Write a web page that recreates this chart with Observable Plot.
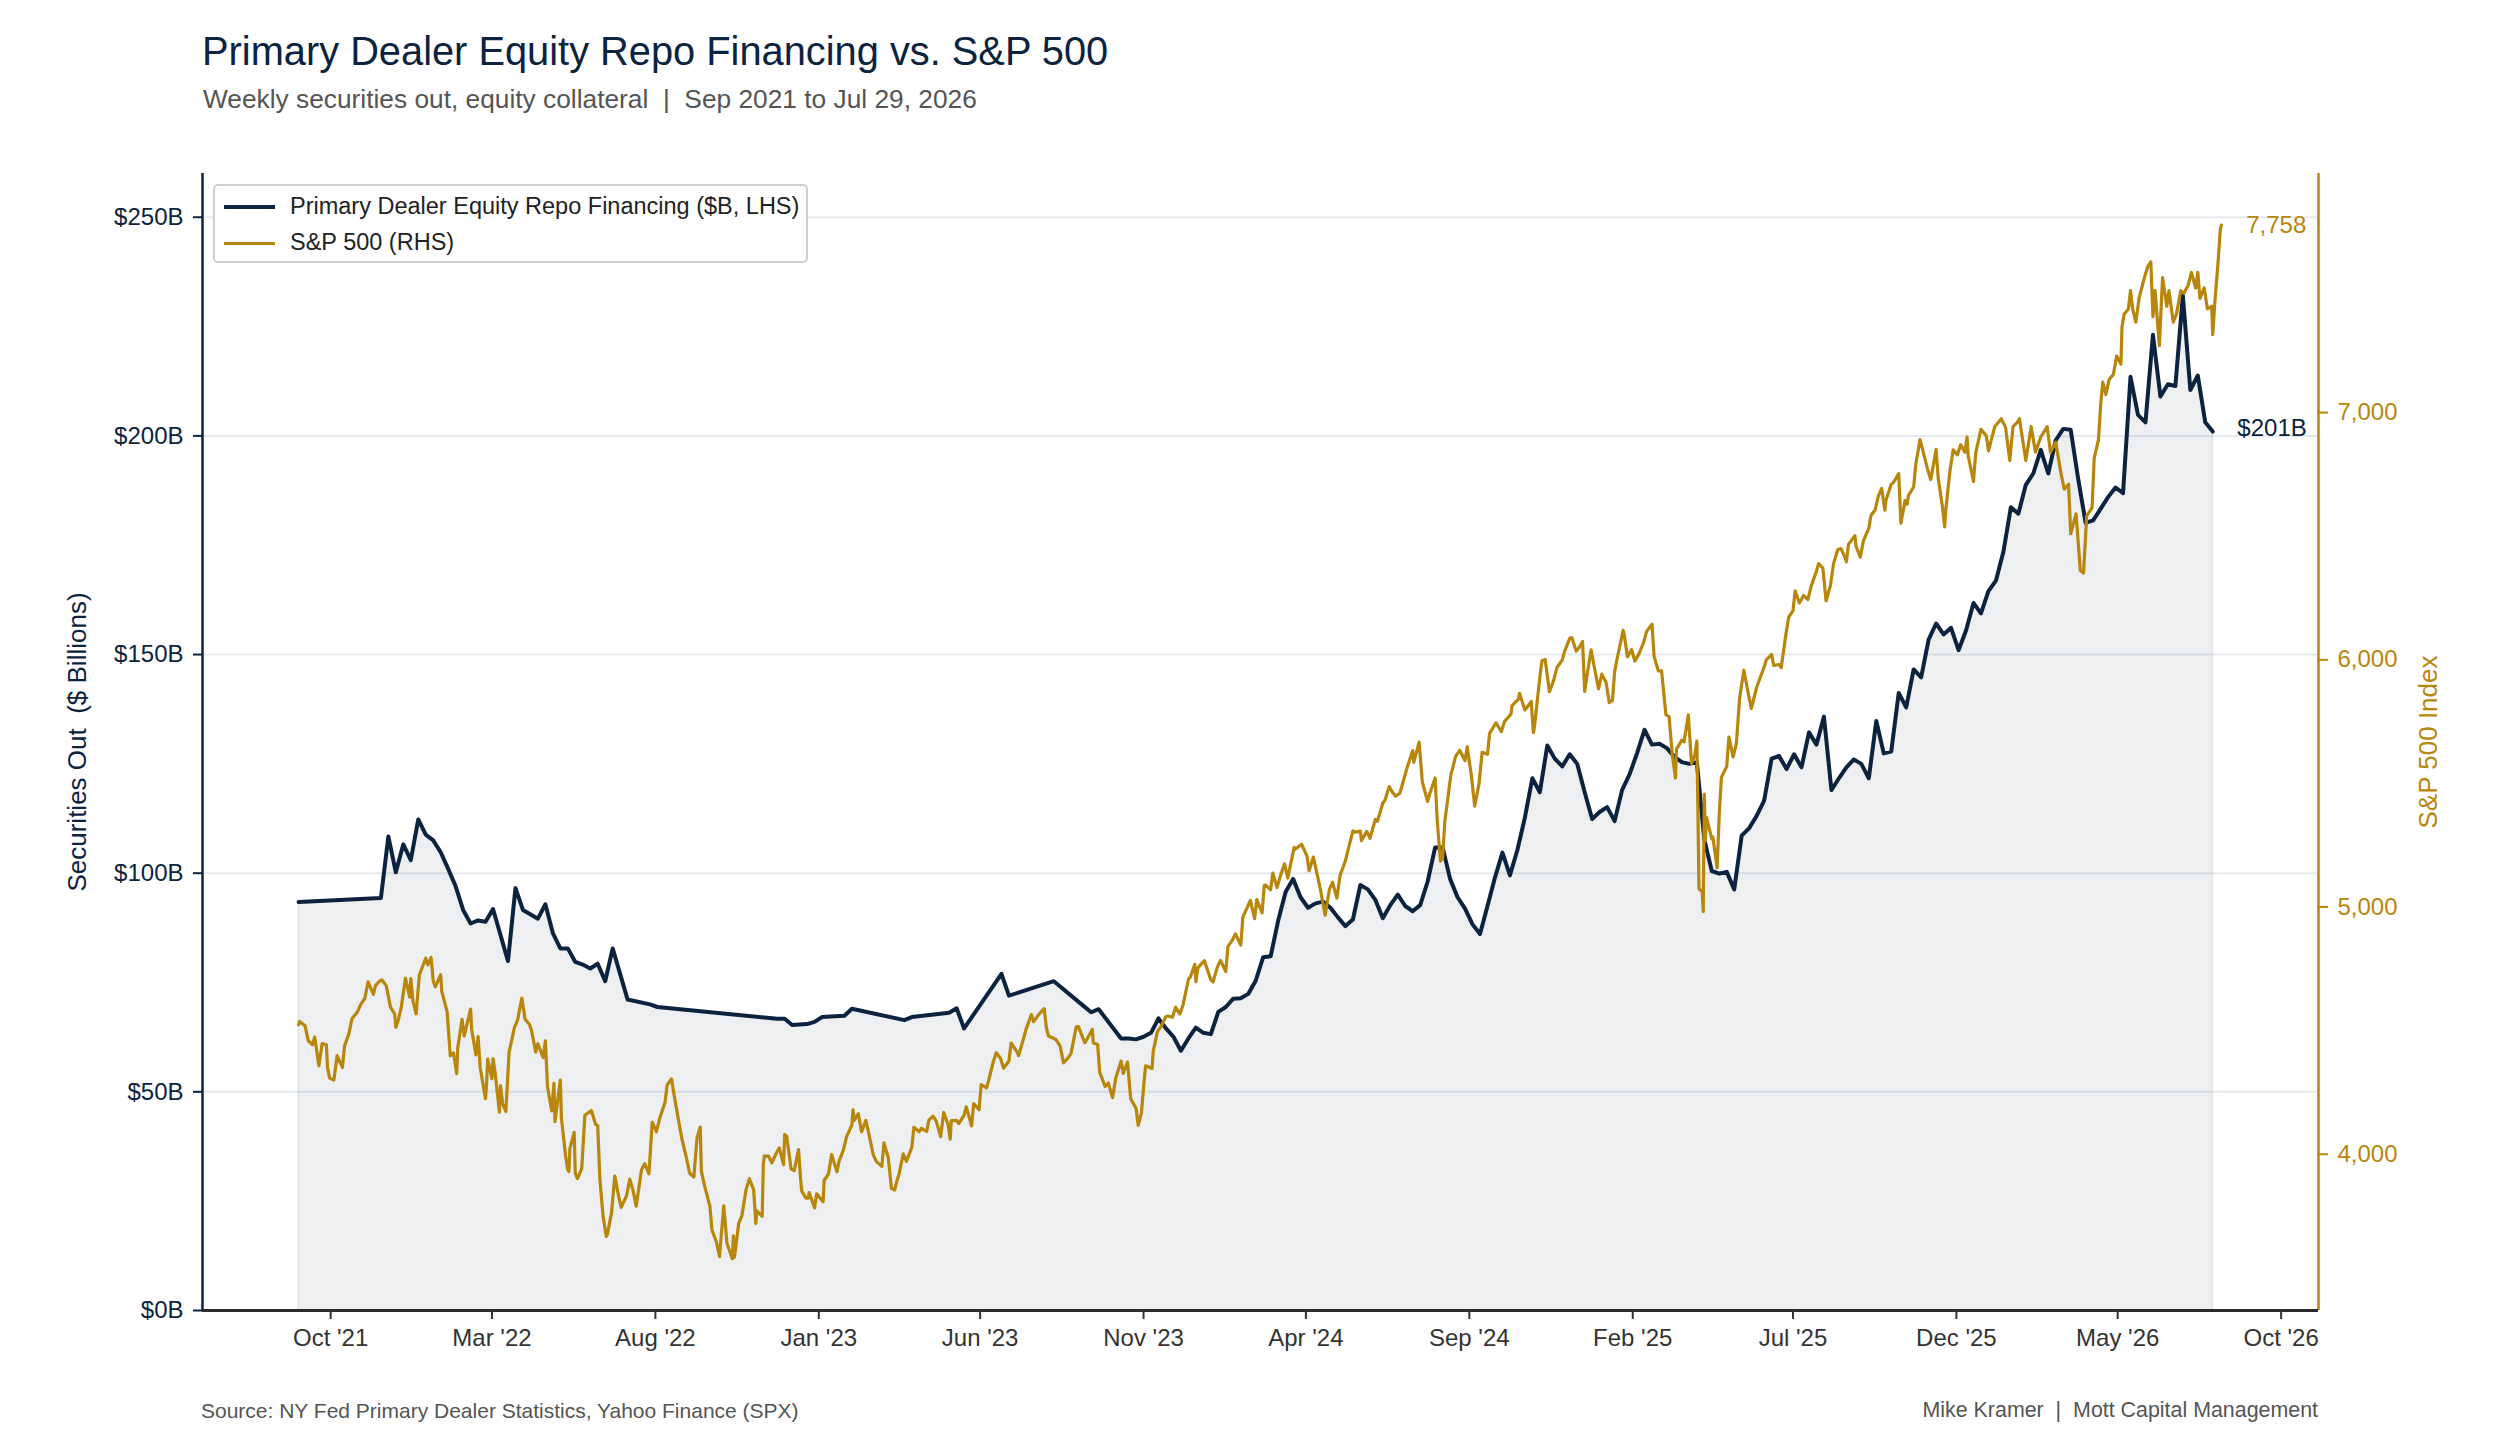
<!DOCTYPE html>
<html>
<head>
<meta charset="utf-8">
<script src="https://cdn.jsdelivr.net/npm/d3@7"></script>
<script src="https://cdn.jsdelivr.net/npm/@observablehq/plot@0.6"></script>
<style>
  html, body { margin: 0; padding: 0; background: #ffffff; }
  body { font-family: "Liberation Sans", Arial, Helvetica, sans-serif; }
  #wrap { position: relative; width: 2520px; height: 1440px; overflow: hidden; background: #fff; }
  #title { position: absolute; left: 202px; top: 32px; font-size: 39.8px; line-height: 39.8px; color: #0c2340; white-space: pre; }
  #subtitle { position: absolute; left: 203px; top: 86px; font-size: 26.3px; line-height: 26.3px; color: #555555; white-space: pre; }
  #chart { position: absolute; left: 0; top: 140px; }
  #legend { position: absolute; left: 213px; top: 184px; width: 595px; height: 79px; box-sizing: border-box;
            border: 2px solid #cfcfcf; border-radius: 5px; background: rgba(255,255,255,0.9); }
  .sw { position: absolute; left: 9px; width: 51px; }
  .lt { position: absolute; left: 75px; font-size: 23.5px; line-height: 23.5px; color: #222; white-space: pre; }
  #src { position: absolute; left: 201px; top: 1400px; font-size: 21px; line-height: 21px; color: #555; white-space: pre; }
  #credit { position: absolute; right: 202px; top: 1400px; font-size: 21.4px; line-height: 21px; color: #555; white-space: pre; }
</style>
</head>
<body>
<div id="wrap">
  <div id="title">Primary Dealer Equity Repo Financing vs. S&amp;P 500</div>
  <div id="subtitle">Weekly securities out, equity collateral  |  Sep 2021 to Jul 29, 2026</div>
  <div id="chart"></div>
  <div id="legend">
    <div class="sw" style="top:19px;height:4px;background:#0c2340"></div>
    <div class="lt" style="top:9px">Primary Dealer Equity Repo Financing ($B, LHS)</div>
    <div class="sw" style="top:55.5px;height:3px;background:#b8860b"></div>
    <div class="lt" style="top:45px">S&amp;P 500 (RHS)</div>
  </div>
  <div id="src">Source: NY Fed Primary Dealer Statistics, Yahoo Finance (SPX)</div>
  <div id="credit">Mike Kramer  |  Mott Capital Management</div>
</div>
<script>
// ---------------- DATA ----------------
// Weekly primary dealer equity repo financing, $B (Wednesdays)
const repoDates = [
  "2021-09-01","2021-11-17","2021-11-24","2021-12-01","2021-12-08","2021-12-15","2021-12-22","2021-12-29",
  "2022-01-05","2022-01-12","2022-01-19","2022-01-26","2022-02-02","2022-02-09","2022-02-16","2022-02-23",
  "2022-03-02","2022-03-16","2022-03-23","2022-03-30","2022-04-13","2022-04-20","2022-04-27","2022-05-04",
  "2022-05-11","2022-05-18","2022-05-25","2022-06-01","2022-06-08","2022-06-15","2022-06-22","2022-07-06",
  "2022-07-27","2022-08-03","2022-11-23","2022-11-30","2022-12-07","2022-12-21","2022-12-28","2023-01-04",
  "2023-01-25","2023-02-01","2023-03-22","2023-03-29","2023-05-03","2023-05-10","2023-05-17","2023-06-21",
  "2023-06-28","2023-08-09","2023-09-06","2023-09-13","2023-09-20","2023-10-11","2023-10-18","2023-10-25",
  "2023-11-01","2023-11-08","2023-11-15","2023-11-22","2023-11-29","2023-12-06","2023-12-13","2023-12-20",
  "2023-12-27","2024-01-03","2024-01-10","2024-01-17","2024-01-24","2024-01-31","2024-02-07","2024-02-14",
  "2024-02-21","2024-02-28","2024-03-06","2024-03-13","2024-03-20","2024-03-27","2024-04-03","2024-04-10",
  "2024-04-17","2024-04-24","2024-05-01","2024-05-08","2024-05-15","2024-05-22","2024-05-29","2024-06-05",
  "2024-06-12","2024-06-19","2024-06-26","2024-07-03","2024-07-10","2024-07-17","2024-07-24","2024-07-31",
  "2024-08-07","2024-08-14","2024-08-21","2024-08-28","2024-09-04","2024-09-11","2024-09-18","2024-09-25",
  "2024-10-02","2024-10-09","2024-10-16","2024-10-23","2024-10-30","2024-11-06","2024-11-13","2024-11-20",
  "2024-11-27","2024-12-04","2024-12-11","2024-12-18","2024-12-25","2025-01-01","2025-01-08","2025-01-15",
  "2025-01-22","2025-01-29","2025-02-05","2025-02-12","2025-02-19","2025-02-26","2025-03-05","2025-03-12",
  "2025-03-19","2025-03-26","2025-04-02","2025-04-09","2025-04-16","2025-04-23","2025-04-30","2025-05-07",
  "2025-05-14","2025-05-21","2025-05-28","2025-06-04","2025-06-11","2025-06-18","2025-06-25","2025-07-02",
  "2025-07-09","2025-07-16","2025-07-23","2025-07-30","2025-08-06","2025-08-13","2025-08-20","2025-08-27",
  "2025-09-03","2025-09-10","2025-09-17","2025-09-24","2025-10-01","2025-10-08","2025-10-15","2025-10-22",
  "2025-10-29","2025-11-05","2025-11-12","2025-11-19","2025-11-26","2025-12-03","2025-12-10","2025-12-17",
  "2025-12-24","2025-12-31","2026-01-07","2026-01-14","2026-01-21","2026-01-28","2026-02-04","2026-02-11",
  "2026-02-18","2026-02-25","2026-03-04","2026-03-11","2026-03-18","2026-03-25","2026-04-01","2026-04-08",
  "2026-04-15","2026-04-22","2026-04-29","2026-05-06","2026-05-13","2026-05-20","2026-05-27","2026-06-03",
  "2026-06-10","2026-06-17","2026-06-24","2026-07-01","2026-07-08","2026-07-15","2026-07-22","2026-07-29"
];
const repoValues = [
  93.4, 94.3, 108.4, 100.2, 106.6, 103.0, 112.3, 108.8,
  107.5, 104.8, 101.0, 97.0, 91.6, 88.5, 89.2, 88.9,
  91.8, 79.9, 96.6, 91.6, 89.6, 92.9, 86.3, 82.8,
  82.8, 79.7, 79.1, 78.2, 79.3, 75.3, 82.8, 71.1,
  70.0, 69.4, 66.7, 66.7, 65.3, 65.5, 66.0, 67.1,
  67.4, 69.0, 66.4, 67.1, 68.1, 69.1, 64.5, 77.0,
  72.0, 75.3, 69.6, 68.2, 68.9, 62.2, 62.2, 62.0,
  62.6, 63.5, 66.8, 64.5, 62.6, 59.4, 62.2, 64.7,
  63.5, 63.2, 68.3, 69.4, 71.3, 71.4, 72.4, 75.4,
  80.8, 81.0, 89.1, 95.7, 98.7, 94.5, 92.1, 93.1,
  93.5, 92.1, 89.9, 87.9, 89.4, 97.3, 96.3, 93.9,
  89.7, 92.7, 95.1, 92.5, 91.3, 92.7, 98.1, 105.9,
  105.9, 98.7, 94.5, 91.9, 88.3, 86.1, 92.5, 99.0,
  104.7, 99.5, 105.3, 112.7, 121.7, 118.5, 129.2, 126.2,
  124.4, 127.2, 125.0, 118.5, 112.4, 114.0, 115.1, 111.9,
  119.0, 122.6, 127.4, 132.8, 129.4, 129.6, 128.6, 126.6,
  125.4, 125.0, 125.4, 107.7, 100.5, 99.9, 100.3, 96.3,
  108.6, 110.3, 113.1, 116.6, 126.2, 126.8, 123.8, 127.2,
  124.2, 132.2, 129.4, 135.8, 119.0, 121.7, 124.2, 126.0,
  125.0, 121.7, 134.8, 127.4, 127.8, 141.2, 137.9, 146.6,
  144.8, 153.4, 157.1, 154.6, 156.1, 151.0, 155.5, 161.8,
  159.4, 164.5, 166.9, 173.5, 183.7, 182.2, 188.8, 191.4,
  196.8, 191.4, 199.0, 201.6, 201.4, 190.2, 180.1, 180.7,
  183.3, 186.0, 188.2, 186.9, 213.5, 204.8, 203.1, 223.1,
  209.0, 211.8, 211.4, 232.1, 210.5, 213.8, 203.1, 201.0
];

// S&P 500 closes (month-day per year, values in parallel)
const spxDates2021 = [
  "09-01","09-02","09-07","09-10","09-14","09-16","09-20","09-23","09-27","09-28","09-30",
  "10-04","10-07","10-12","10-14","10-18","10-21","10-26","10-29",
  "11-02","11-05","11-10","11-12","11-16","11-18","11-22","11-26","11-30",
  "12-01","12-03","12-06","12-10","12-14","12-15","12-17","12-20","12-23","12-29","12-31"];
const spxValues2021 = [
  4524,4537,4520,4459,4443,4474,4358,4448,4443,4353,4308,
  4300,4399,4351,4438,4487,4549,4575,4605,
  4631,4697,4647,4683,4701,4705,4682,4595,4567,
  4513,4538,4592,4712,4635,4710,4620,4568,4725,4793,4766];

const spxDates2022 = [
  "01-03","01-05","01-07","01-12","01-13","01-18","01-21","01-24","01-27","01-28",
  "02-01","02-03","02-09","02-10","02-14","02-16","02-18","02-23","02-24","02-25",
  "03-01","03-02","03-04","03-08","03-09","03-11","03-14","03-17","03-22","03-25","03-29",
  "04-01","04-05","04-07","04-11","04-13","04-18","04-20","04-22","04-26","04-28","04-29",
  "05-04","05-05","05-09","05-11","05-12","05-13","05-17","05-18","05-20","05-24","05-27",
  "06-02","06-06","06-08","06-10","06-13","06-16","06-17","06-21","06-24","06-28","06-30",
  "07-05","07-08","07-11","07-14","07-19","07-22","07-26","07-29",
  "08-02","08-05","08-10","08-12","08-16","08-19","08-23","08-26","08-30",
  "09-02","09-06","09-09","09-12","09-13","09-16","09-21","09-23","09-27","09-30",
  "10-04","10-07","10-12","10-13","10-14","10-18","10-21","10-25","10-28",
  "11-01","11-03","11-04","11-09","11-10","11-11","11-15","11-18","11-22","11-25","11-29","11-30",
  "12-02","12-06","12-09","12-13","12-15","12-16","12-20","12-22","12-23","12-28","12-30"];
const spxValues2022 = [
  4796,4701,4677,4726,4659,4577,4398,4410,4326,4432,
  4546,4478,4587,4504,4402,4476,4349,4225,4288,4385,
  4306,4387,4329,4170,4278,4204,4173,4412,4512,4543,4632,
  4546,4526,4501,4413,4447,4391,4459,4272,4175,4287,4132,
  4300,4147,3991,3935,3930,4024,4088,3923,3901,3941,4158,
  4177,4121,4116,3901,3750,3667,3675,3765,3912,3821,3785,
  3832,3899,3855,3790,3937,3962,3921,4130,
  4091,4145,4210,4280,4305,4228,4128,4058,3986,
  3924,3908,4067,4110,3932,3873,3790,3693,3647,3586,
  3791,3640,3577,3670,3583,3720,3752,3859,3901,
  3856,3720,3771,3749,3956,3993,3992,3965,4003,4026,3958,4080,
  4072,3941,3934,4019,3896,3852,3822,3822,3845,3783,3840];

const spxDates2023 = [
  "01-05","01-06","01-10","01-13","01-18","01-20","01-24","01-27",
  "02-01","02-02","02-03","02-07","02-10","02-14","02-17","02-21","02-24",
  "03-01","03-03","03-07","03-10","03-13","03-15","03-17","03-21","03-24","03-29","03-31",
  "04-05","04-07","04-12","04-14","04-18","04-21","04-25","04-28",
  "05-02","05-04","05-05","05-10","05-12","05-17","05-19","05-24","05-26","05-31",
  "06-02","06-07","06-09","06-13","06-16","06-20","06-23","06-28","06-30",
  "07-06","07-07","07-12","07-14","07-19","07-21","07-26","07-31",
  "08-02","08-04","08-09","08-11","08-15","08-18","08-22","08-25","08-30",
  "09-01","09-07","09-08","09-14","09-15","09-19","09-21","09-22","09-26","09-29",
  "10-03","10-06","10-11","10-13","10-17","10-20","10-25","10-27","10-30",
  "11-02","11-03","11-09","11-10","11-14","11-17","11-22","11-24","11-28",
  "12-01","12-05","12-08","12-13","12-15","12-19","12-20","12-22","12-28","12-29"];
const spxValues2023 = [
  3808,3895,3919,3999,3929,3972,4017,4071,
  4119,4180,4136,4164,4090,4137,4079,3997,3970,
  3951,4046,3986,3862,3855,3891,3917,4002,3971,4027,4109,
  4091,4105,4092,4138,4154,4133,4071,4169,
  4120,4061,4136,4137,4124,4158,4192,4115,4205,4180,
  4282,4268,4299,4369,4410,4389,4348,4377,4450,
  4411,4399,4473,4505,4565,4536,4566,4589,
  4513,4478,4468,4464,4437,4370,4388,4406,4515,
  4516,4451,4457,4505,4450,4444,4330,4320,4274,4288,
  4229,4308,4377,4327,4373,4224,4186,4117,4167,
  4318,4358,4347,4415,4496,4514,4557,4559,4554,
  4595,4567,4604,4707,4719,4768,4698,4755,4783,4770];

const spxDates2024 = [
  "01-03","01-05","01-09","01-12","01-17","01-19","01-23","01-26","01-31",
  "02-02","02-09","02-13","02-15","02-20","02-22","02-23","02-28",
  "03-01","03-05","03-08","03-12","03-15","03-21","03-22","03-28",
  "04-02","04-04","04-08","04-12","04-15","04-19","04-23","04-26","04-30",
  "05-03","05-08","05-10","05-15","05-17","05-22","05-23","05-28","05-31",
  "06-05","06-07","06-12","06-14","06-18","06-21","06-24","06-28",
  "07-03","07-05","07-10","07-11","07-16","07-19","07-24","07-26","07-31",
  "08-02","08-05","08-07","08-09","08-15","08-16","08-19","08-23","08-28","08-30",
  "09-03","09-06","09-10","09-13","09-18","09-20","09-26","09-27",
  "10-01","10-04","10-10","10-11","10-17","10-18","10-23","10-25","10-29","10-31",
  "11-01","11-06","11-08","11-11","11-15","11-19","11-22","11-27","11-29",
  "12-04","12-06","12-10","12-13","12-16","12-18","12-20","12-24","12-27","12-31"];
const spxValues2024 = [
  4705,4697,4756,4784,4739,4840,4865,4891,4846,
  4959,5027,4953,5030,4976,5087,5089,5070,
  5137,5079,5124,5175,5117,5241,5234,5254,
  5206,5147,5202,5123,5062,4967,5071,5100,5036,
  5128,5187,5223,5308,5303,5307,5268,5306,5278,
  5354,5347,5421,5432,5487,5465,5448,5460,
  5537,5567,5633,5585,5667,5505,5427,5459,5522,
  5346,5186,5199,5344,5543,5554,5608,5634,5592,5648,
  5529,5408,5496,5626,5618,5703,5745,5738,
  5709,5751,5780,5815,5841,5864,5797,5808,5832,5705,
  5729,5929,5996,6001,5871,5917,5969,5999,6032,
  6087,6090,6035,6051,6074,5872,5931,6040,5971,5882];

const spxDates2025 = [
  "01-03","01-07","01-10","01-13","01-15","01-17","01-23","01-24","01-27","01-31",
  "02-03","02-07","02-11","02-14","02-19","02-21","02-25","02-28",
  "03-04","03-07","03-10","03-13","03-14","03-19","03-21","03-25","03-28","03-31",
  "04-02","04-03","04-04","04-07","04-08","04-09","04-10","04-11","04-16","04-17","04-21","04-23","04-25","04-30",
  "05-02","05-06","05-09","05-12","05-16","05-21","05-23","05-28","05-30",
  "06-04","06-06","06-11","06-13","06-18","06-20","06-24","06-27",
  "07-01","07-03","07-07","07-11","07-15","07-18","07-23","07-25","07-29",
  "08-01","08-05","08-08","08-12","08-15","08-19","08-20","08-22","08-28","08-29",
  "09-02","09-05","09-10","09-12","09-16","09-19","09-22","09-25","09-26",
  "10-01","10-03","10-08","10-10","10-14","10-16","10-17","10-22","10-24","10-28","10-31",
  "11-04","11-07","11-12","11-14","11-18","11-20","11-21","11-25","11-28",
  "12-02","12-05","12-09","12-11","12-12","12-17","12-19","12-24","12-29","12-31"];
const spxValues2025 = [
  5942,5909,5827,5836,5950,5997,6119,6101,6012,6041,
  5995,6026,6068,6115,6144,6013,5955,5955,
  5778,5770,5615,5522,5639,5675,5668,5777,5581,5612,
  5671,5397,5074,5062,4982,5457,5268,5363,5276,5283,5158,5376,5525,5569,
  5687,5607,5660,5844,5958,5845,5803,5889,5912,
  5971,6000,6022,5977,5981,5968,6092,6173,
  6198,6279,6230,6260,6244,6297,6359,6389,6371,
  6238,6299,6389,6446,6450,6411,6396,6467,6502,6460,
  6415,6482,6532,6584,6607,6664,6693,6605,6644,
  6711,6716,6753,6553,6644,6630,6664,6699,6792,6891,6840,
  6771,6729,6851,6734,6617,6538,6603,6766,6849,
  6829,6870,6840,6901,6827,6721,6835,6932,6906,6845];

const spxDates2026 = [
  "01-06","01-12","01-16","01-20","01-23","01-27","01-29",
  "02-04","02-09","02-13","02-18","02-24","02-27",
  "03-04","03-09","03-12","03-16","03-18","03-23","03-25","03-27","03-30",
  "04-02","04-07","04-09","04-13","04-15","04-17","04-20","04-23","04-27","04-30",
  "05-04","05-05","05-07","05-11","05-13","05-15","05-18","05-21","05-26","05-29",
  "06-01","06-03","06-05","06-09","06-12","06-16","06-18","06-22","06-25","06-29",
  "07-02","07-06","07-09","07-13","07-15","07-17","07-21","07-24","07-28","07-29","07-31",
  "08-03","08-05","08-06"];
const spxValues2026 = [
  6944,6975,6940,6806,6943,6960,6975,
  6806,6943,6840,6901,6943,6840,
  6880,6752,6690,6710,6510,6590,6478,6361,6351,
  6583,6615,6816,6890,7028,7123,7073,7134,7155,7229,
  7196,7345,7398,7419,7493,7419,7366,7462,7546,7589,
  7610,7388,7493,7271,7546,7430,7493,7366,7398,7493,
  7483,7515,7567,7504,7567,7462,7504,7419,7430,7315,7450,
  7610,7737,7758];

// Axis ticks
const lhsTicks = [0, 50, 100, 150, 200, 250];
const rhsTicks = [4000, 5000, 6000, 7000];
const xTickDates = ["2021-10-01","2022-03-01","2022-08-01","2023-01-01","2023-06-01","2023-11-01",
                    "2024-04-01","2024-09-01","2025-02-01","2025-07-01","2025-12-01","2026-05-01","2026-10-01"];
const xDomain = ["2021-06-03", "2026-11-05"];
const lhsDomain = [0, 260];

// ---------------- BUILD ----------------
const NAVY = "#0c2340", GOLD = "#b8860b";
const parse = s => new Date(s + "T00:00:00Z");

if (repoDates.length !== repoValues.length) console.error("repo length mismatch");
const repo = repoDates.map((d, i) => ({date: parse(d), value: repoValues[i]}));

const spxParts = [
  [2021, spxDates2021, spxValues2021], [2022, spxDates2022, spxValues2022],
  [2023, spxDates2023, spxValues2023], [2024, spxDates2024, spxValues2024],
  [2025, spxDates2025, spxValues2025], [2026, spxDates2026, spxValues2026]
];
const spx = [];
for (const [yr, ds, vs] of spxParts) {
  if (ds.length !== vs.length) console.error("spx length mismatch " + yr);
  ds.forEach((d, i) => spx.push({date: parse(`${yr}-${d}`), value: vs[i]}));
}

// Right-hand axis: S&P domain padded 5% of range, mapped onto the LHS scale
const [sMin, sMax] = d3.extent(spx, d => d.value);
const sLo = sMin - 0.05 * (sMax - sMin), sHi = sMax + 0.05 * (sMax - sMin);
const toL = v => (v - sLo) / (sHi - sLo) * (lhsDomain[1] - lhsDomain[0]) + lhsDomain[0];
const fromL = y => sLo + (y - lhsDomain[0]) / (lhsDomain[1] - lhsDomain[0]) * (sHi - sLo);

const lastRepo = repo[repo.length - 1];
const lastSpx = spx[spx.length - 1];

const chart = Plot.plot({
  width: 2520,
  height: 1235,
  marginLeft: 202,
  marginRight: 202,
  marginTop: 33,
  marginBottom: 65,
  style: {fontFamily: '"Liberation Sans", Arial, Helvetica, sans-serif', fontSize: "24px", background: "transparent", overflow: "visible"},
  x: {type: "utc", domain: xDomain.map(parse)},
  y: {domain: lhsDomain},
  marks: [
    Plot.areaY(repo, {x: "date", y: "value", fill: "#5a6b7d", fillOpacity: 0.11, stroke: "#5a6b7d", strokeOpacity: 0.10, strokeWidth: 2}),
    Plot.gridY(lhsTicks, {stroke: "#8da0b8", strokeOpacity: 0.22, strokeWidth: 2}),
    Plot.lineY(repo, {x: "date", y: "value", stroke: NAVY, strokeWidth: 4, strokeLinejoin: "round"}),
    Plot.lineY(spx, {x: "date", y: d => toL(d.value), stroke: GOLD, strokeWidth: 3.2, strokeLinejoin: "round"}),
    // spines
    Plot.ruleX([parse(xDomain[0])], {stroke: NAVY, strokeWidth: 2.5}),
    Plot.ruleX([parse(xDomain[1])], {stroke: GOLD, strokeWidth: 2.5}),
    Plot.ruleY([0], {stroke: "#2b2b2b", strokeWidth: 3}),
    // axes
    Plot.axisY(lhsTicks, {anchor: "left", tickSize: 9, tickPadding: 10, tickFormat: d => `$${d}B`, color: NAVY, strokeWidth: 2, label: null, fontSize: 24}),
    Plot.axisY(rhsTicks.map(toL), {anchor: "right", tickSize: 9, tickPadding: 10, tickFormat: d => d3.format(",")(Math.round(fromL(d) / 10) * 10), color: GOLD, strokeWidth: 2, label: null, fontSize: 24}),
    Plot.axisX(xTickDates.map(parse), {tickSize: 9, tickPadding: 9, tickFormat: d3.utcFormat("%b '%y"), color: "#333333", strokeWidth: 2, label: null, fontSize: 24}),
    // axis titles
    Plot.text(["Securities Out\u00a0\u00a0($ Billions)"], {frameAnchor: "left", textAnchor: "middle", dx: -125, rotate: -90, fill: NAVY, fontSize: 26}),
    Plot.text(["S&P 500 Index"], {frameAnchor: "right", textAnchor: "middle", dx: 110, rotate: -90, fill: GOLD, fontSize: 26}),
    // end labels
    Plot.text([lastRepo], {x: "date", y: "value", text: d => `$${Math.round(d.value)}B`, textAnchor: "end", dx: 94, dy: -3, fill: NAVY, fontSize: 24}),
    Plot.text([lastSpx], {x: "date", y: d => toL(d.value), text: d => d3.format(",")(d.value), textAnchor: "end", dx: 85, fill: GOLD, fontSize: 24})
  ]
});
document.getElementById("chart").appendChild(chart);
</script>
</body>
</html>
